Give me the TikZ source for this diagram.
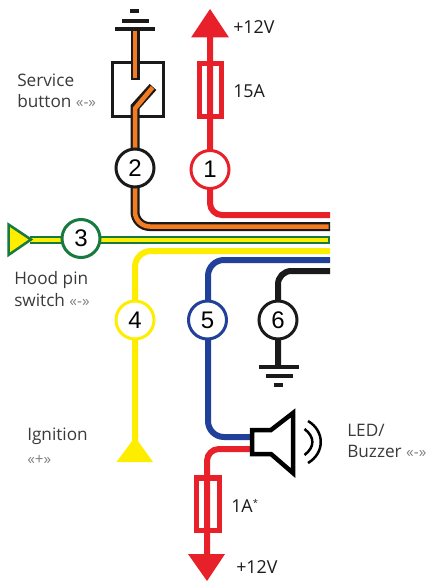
\documentclass[tikz,border=0pt]{standalone}
\usepackage{fontspec}
\setmainfont{Open Sans}
\newfontfamily\numfont{Liberation Sans}
\definecolor{wred}{HTML}{E8202A}
\definecolor{wor}{HTML}{F47B20}
\definecolor{wgreen}{HTML}{177A3E}
\definecolor{wyel}{HTML}{FFED00}
\definecolor{wblue}{HTML}{21409A}
\definecolor{wblk}{HTML}{1A1A1A}
\definecolor{txt}{HTML}{3A3A3A}
\tikzset{
  x=0.75pt,y=-0.75pt,
  lw/.style={line width=#1*0.75pt},
  wire/.style={lw=6,rounded corners=9pt,line cap=butt},
  circ/.style={circle,draw=#1,fill=white,lw=3,minimum size=38*0.75pt,inner sep=0pt,font=\numfont\fontsize{18}{20}\selectfont,text=black},
  lab/.style={font=\fontsize{12.9}{16}\selectfont,text=txt,align=left,anchor=west,inner sep=0pt},
  val/.style={font=\fontsize{13.4}{15}\selectfont,text=wblk,anchor=west,inner sep=0pt},
  bar/.style={lw=4,draw=wblk},
  fuse/.style={draw=wred,lw=5.5,fill=none},
}
\newcommand{\mn}{{\color{gray}\fontsize{11.5}{10}\selectfont «-»}}
\newcommand{\pl}{{\color{gray}\fontsize{11.5}{10}\selectfont «+»}}
\begin{document}
\begin{tikzpicture}
\useasboundingbox (0,0) rectangle (426,581);
% coordinates
\coordinate (e1) at (330,215);
\coordinate (e2) at (330,226.5);
\coordinate (e3) at (330,239.5);
\coordinate (e4) at (330,251);
\coordinate (e5) at (330,260);
\coordinate (e6) at (330,271);
\coordinate (top1) at (210,30);
\coordinate (g2) at (135,30);
\coordinate (sw) at (135,107);
\coordinate (swt) at (153,87);
\coordinate (swu) at (135,80);
\coordinate (t3) at (30,239.5);
\coordinate (t4) at (135,445);
\coordinate (g6) at (278,366);
\coordinate (bz1) at (252,437);
\coordinate (bz2) at (252,449);
\coordinate (low) at (207,560);
% red top
\draw[wire,draw=wred] (top1) -- (210,215) -- (e1);
\fill[wred] (210,9) -- (229,37.5) -- (191,37.5) -- cycle;
\draw[fuse] (199.5,63.7) rectangle (221.5,116.5);
% orange
\draw[lw=9,draw=wblk,rounded corners=11pt] (sw) -- (135,226.5) -- (e2);
\draw[lw=4.5,draw=wor,rounded corners=11pt] (135,107) -- (135,226.5) -- (328.5,226.5);
\node[draw=wblk,fill=white,lw=2.5,minimum width=51*0.75pt,minimum height=54*0.75pt,inner sep=0pt] (box) at (138,89.5) {};
\draw[lw=9,draw=wblk,line join=miter] (135,118) -- (sw) -- (swt);
\draw[lw=4.5,draw=wor] (135,118) -- (135,108.5) -- (152.5,87.5);
\draw[lw=9,draw=wblk] (g2) -- (swu);
\draw[lw=4.5,draw=wor] (135,31) -- (135,78.5);
\draw[bar] (115,29.5) -- (155,29.5);
\draw[bar] (122,20.7) -- (149,20.7);
\draw[bar] (130,11.3) -- (139,11.3);
\node[circ=wblk] (n2) at (135,168) {2};
\node[circ=wred] (n1) at (210,169.5) {1};
% green
\draw[lw=8,draw=wgreen] (t3) -- (e3);
\draw[lw=4,draw=wyel] (t3) -- (328,239.5);
\draw[draw=wgreen,fill=wyel,lw=2.5,line join=miter] (8.5,224.5) -- (31,239.5) -- (8.5,255) -- cycle;
\node[circ=wgreen] (n3) at (81,238.5) {3};
% yellow
\draw[wire,draw=wyel,rounded corners=12pt] (t4) -- (135,251) -- (e4);
\fill[wyel] (135,437) -- (153,462) -- (116.5,462) -- cycle;
\node[circ=wyel] (n4) at (135,320) {4};
% blue
\draw[wire,draw=wblue,rounded corners=12pt] (bz1) -- (208,437) -- (208,260) -- (e5);
\node[circ=wblue] (n5) at (207.5,320) {5};
% black
\draw[wire,draw=wblk,rounded corners=10pt] (g6) -- (278,271) -- (e6);
\node[circ=wblk] (n6) at (278,320) {6};
\draw[bar] (259,367) -- (299,367);
\draw[bar] (266,376) -- (293,376);
\draw[bar] (274,385) -- (283,385);
% lower red
\draw[wire,draw=wred,rounded corners=9pt] (bz2) -- (207,449) -- (low);
\draw[fuse] (196.7,478) rectangle (219.5,530.5);
\fill[wred] (207,581) -- (188,554) -- (225,554) -- cycle;
% speaker
\draw[lw=4.5,draw=black,fill=white,line join=miter] (252,430) -- (271,430) -- (293,413) -- (293,473) -- (271,454) -- (252,454) -- cycle;
\draw[lw=2.5,draw=black] (304.5,429) .. controls (315,437) and (315,447) .. (304.5,455);
\draw[lw=2.5,draw=black] (308,421) .. controls (325,431) and (325,453) .. (308,463);
% labels
\node[val] (v1) at (233,27) {+12V};
\node[val] (v2) at (233,91) {15A};
\node[lab] (l1) at (17,91) {Service\\button \mn};
\node[lab] (l2) at (14,289) {Hood pin\\switch \mn};
\node[lab] (l3) at (27,446) {Ignition\\[2pt]\pl};
\node[lab] (l4) at (347,441) {LED/\\Buzzer \mn};
\node[val] (v3) at (231,506) {1A\raisebox{5pt}{\fontsize{7}{8}\selectfont *}};
\node[val] (v4) at (236,567) {+12V};
\end{tikzpicture}
\end{document}
